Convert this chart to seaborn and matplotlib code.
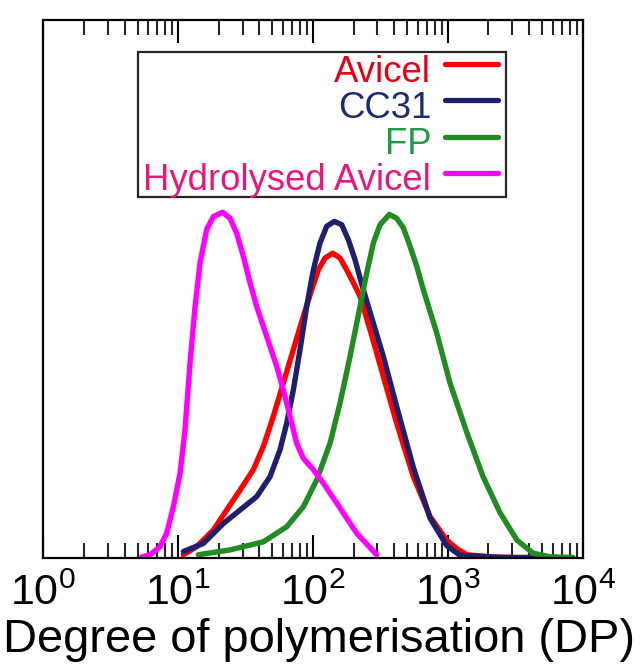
import numpy as np
import pandas as pd
import matplotlib
matplotlib.use("Agg")
import matplotlib.pyplot as plt
import seaborn as sns
from matplotlib.lines import Line2D
from matplotlib.patches import Rectangle
from matplotlib.legend_handler import HandlerLine2D
from matplotlib.ticker import LogLocator

# ---- data (x = degree of polymerisation, y = relative abundance) ----
avicel_dp = [10.93, 13.72, 18.24, 22.90, 28.75, 36.10, 42.82, 50.80, 60.26, 71.47, 84.77, 97.75,
             109.5, 122.7, 139.9, 158.6, 177.7, 199.2, 223.2, 264.7, 332.4, 417.4, 554.8, 737.6,
             980, 1169, 1387, 2054, 2990]
avicel_y = [0.006, 0.021, 0.052, 0.089, 0.126, 0.164, 0.207, 0.263, 0.325, 0.387, 0.449, 0.498,
            0.535, 0.557, 0.566, 0.557, 0.535, 0.511, 0.486, 0.424, 0.337, 0.250, 0.151, 0.077,
            0.033, 0.017, 0.006, 0.002, 0.001]

cc31_dp = [10.93, 15.37, 21.63, 28.75, 38.22, 47.98, 56.92, 63.78, 71.47, 80.09, 89.74, 100.6,
           112.7, 126.3, 143.9, 163.2, 182.8, 204.8, 236.2, 280.2, 332.4, 417.4, 554.8, 737.6,
           980, 1230, 2437, 6446]
cc31_y = [0.012, 0.027, 0.064, 0.089, 0.114, 0.151, 0.201, 0.250, 0.312, 0.387, 0.467, 0.535,
          0.585, 0.616, 0.625, 0.619, 0.591, 0.554, 0.498, 0.436, 0.374, 0.281, 0.168, 0.074,
          0.023, 0.005, 0.001, 0.001]

fp_dp = [14.11, 24.24, 42.82, 63.78, 84.77, 106.5, 133.7, 158.6, 188.1, 223.2, 250.0, 280.2,
         314.1, 368.2, 417.4, 467.7, 524.1, 587.3, 658.1, 826.4, 1037, 1387, 1824, 2437, 3258,
         4278, 5728, 8472]
fp_y = [0.006, 0.015, 0.030, 0.058, 0.095, 0.145, 0.213, 0.288, 0.374, 0.467, 0.529, 0.585,
        0.619, 0.638, 0.631, 0.613, 0.579, 0.542, 0.498, 0.418, 0.325, 0.232, 0.151, 0.084, 0.033,
        0.009, 0.002, 0.001]

hydro_dp = [5.36, 6.18, 7.33, 8.22, 9.21, 10.32, 11.24, 12.24, 13.34, 14.52, 16.27, 18.24, 21.38,
            24.24, 27.16, 30.44, 34.11, 38.22, 42.82, 47.98, 53.78, 60.26, 67.52, 75.66, 84.77,
            100.6, 119.3, 149.8, 210.8, 296.6]
hydro_y = [0.002, 0.006, 0.021, 0.046, 0.095, 0.157, 0.238, 0.362, 0.467, 0.548, 0.610, 0.634, 0.642,
           0.631, 0.603, 0.560, 0.511, 0.467, 0.430, 0.393, 0.356, 0.312, 0.263, 0.213, 0.185,
           0.164, 0.139, 0.102, 0.046, 0.006]

series_names = ["Avicel", "CC31", "FP", "Hydrolysed Avicel"]
line_colors = ["#ff0000", "#1f1f6e", "#228b22", "#ff00ff"]
text_colors = ["#e60012", "#1d2a6e", "#1d9a48", "#e5197d"]
xtick_values = [1, 10, 100, 1000, 10000]
x_label = "Degree of polymerisation (DP)"

frames = []
for name, xs, ys in zip(series_names,
                        [avicel_dp, cc31_dp, fp_dp, hydro_dp],
                        [avicel_y, cc31_y, fp_y, hydro_y]):
    frames.append(pd.DataFrame({"DP": xs, "y": ys, "sample": name}))
df = pd.concat(frames, ignore_index=True)

sns.set_theme(style="white")
plt.rcParams["font.family"] = ["Liberation Sans", "DejaVu Sans"]
plt.rcParams["mathtext.fontset"] = "custom"
plt.rcParams["mathtext.rm"] = "Liberation Sans"

fig = plt.figure(figsize=(6.4, 6.66), dpi=100)
ax = fig.add_axes([0.0677, 0.1622, 0.8428, 0.8085])

for name, col in zip(series_names, line_colors):
    sub = df[df["sample"] == name]
    sns.lineplot(data=sub, x="DP", y="y", ax=ax, color=col, lw=3.9, sort=False,
                 estimator=None, legend=False, solid_capstyle="round", solid_joinstyle="round")

ax.set_xscale("log")
ax.set_xlim(1, 10000)
ax.set_ylim(0, 1)
ax.set_xticks(xtick_values)
ax.xaxis.set_minor_locator(LogLocator(base=10, subs=np.arange(2, 10), numticks=20))
ax.set_yticks([])
ax.set_ylabel("")
ax.set_xlabel(x_label, fontsize=33.8, color="black")
ax.xaxis.set_label_coords(0.512, -0.112)

ax.tick_params(axis="x", which="major", direction="in", length=16.5, width=1.5,
               top=True, bottom=True, labelsize=31, pad=11, colors="black")
ax.tick_params(axis="x", which="minor", direction="in", length=10.8, width=1.5,
               top=True, bottom=True)
for sp in ax.spines.values():
    sp.set_visible(True)
    sp.set_color("black")
    sp.set_linewidth(1.6)

# legend box (frame drawn separately so its padding can differ from the row spacing)
ax.add_patch(Rectangle((0.1756, 0.671), 0.8578 - 0.1756, 0.9402 - 0.671, transform=ax.transAxes,
                       facecolor="white", edgecolor="#2b2522", lw=1.6, zorder=4))


class RaisedLineHandler(HandlerLine2D):
    """Legend line sitting a little above the text's vertical centre, as in the reference."""
    def create_artists(self, legend, orig_handle, xdescent, ydescent, width, height,
                       fontsize, trans):
        artists = super().create_artists(legend, orig_handle, xdescent, ydescent, width,
                                         height, fontsize, trans)
        for a in artists:
            a.set_ydata(np.asarray(a.get_ydata(), dtype=float) + 0.12 * fontsize)
        return artists


handles = [Line2D([0], [0], color=c, lw=3.8, solid_capstyle="round") for c in line_colors]
leg = ax.legend(handles, series_names, loc="upper right", bbox_to_anchor=(0.843, 0.935),
                borderaxespad=0, markerfirst=False, fontsize=26.3, frameon=False,
                handlelength=1.45, handletextpad=0.38, labelspacing=0.03, borderpad=0,
                handler_map={Line2D: RaisedLineHandler()})
leg.set_zorder(5)
for t, c in zip(leg.get_texts(), text_colors):
    t.set_color(c)

fig.savefig("out.png", dpi=100)
